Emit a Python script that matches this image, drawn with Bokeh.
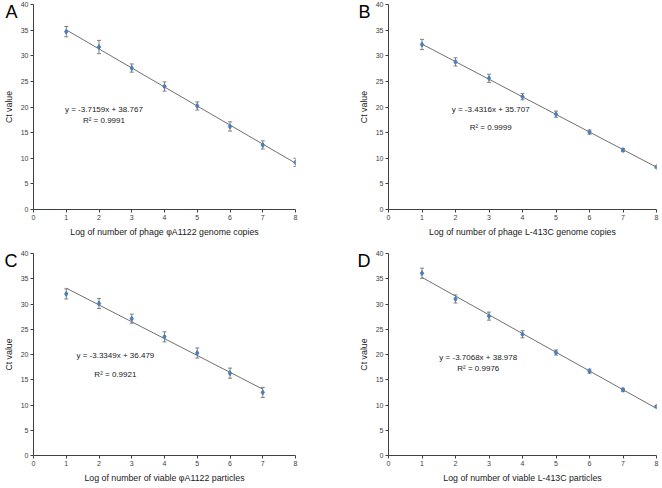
from bokeh.plotting import figure
from bokeh.layouts import gridplot
from bokeh.models import (ColumnDataSource, Whisker, TeeHead, Label, FixedTicker,
                          Range1d, LinearAxis)
from bokeh.embed import file_html
from bokeh.resources import INLINE

# ---- data ----
x_A = [1, 2, 3, 4, 5, 6, 7, 8]
ct_A = [34.7, 31.7, 27.6, 24.0, 20.2, 16.2, 12.6, 9.2]
err_A = [1.0, 1.3, 0.8, 0.9, 0.8, 0.9, 0.8, 0.8]

x_B = [1, 2, 3, 4, 5, 6, 7, 8]
ct_B = [32.2, 28.8, 25.6, 22.0, 18.6, 15.1, 11.6, 8.3]
err_B = [1.0, 0.8, 0.8, 0.6, 0.6, 0.4, 0.3, 0.2]

x_C = [1, 2, 3, 4, 5, 6, 7]
ct_C = [32.0, 30.1, 27.1, 23.5, 20.3, 16.3, 12.5]
err_C = [1.0, 1.0, 0.9, 1.0, 1.0, 1.0, 1.0]

x_D = [1, 2, 3, 4, 5, 6, 7, 8]
ct_D = [36.1, 31.0, 27.6, 24.0, 20.4, 16.7, 13.0, 9.7]
err_D = [1.0, 0.8, 0.8, 0.7, 0.5, 0.4, 0.3, 0.2]

slopes = [-3.7159, -3.4316, -3.3349, -3.7068]
intercepts = [38.767, 35.707, 36.479, 38.978]
fit_x_end = [8, 8, 7, 8]
equations = ["y = -3.7159x + 38.767", "y = -3.4316x + 35.707",
             "y = -3.3349x + 36.479", "y = -3.7068x + 38.978"]
r2_texts = ["R\u00b2 = 0.9991", "R\u00b2 = 0.9999", "R\u00b2 = 0.9921", "R\u00b2 = 0.9976"]
panel_letters = ["A", "B", "C", "D"]
x_titles = ["Log of number of phage \u03c6A1122 genome copies",
            "Log of number of phage L-413C genome copies",
            "Log of number of viable \u03c6A1122 particles",
            "Log of number of viable L-413C particles"]
y_title = "Ct value"
x_ticks = [0, 1, 2, 3, 4, 5, 6, 7, 8]
y_ticks = [0, 5, 10, 15, 20, 25, 30, 35, 40]

# equation placement (data coords): x center, y line1, y line2
eq_pos = [(2.15, 19.5, 17.4), (3.05, 19.6, 16.0), (2.5, 19.8, 16.0), (2.68, 19.4, 17.2)]
letter_y = 38.6

FONT = "Liberation Sans"
BLUE = "#4A7EBB"
GRAY = "#808080"


def make_panel(i, xs, ys, errs, col, row):
    w = 327 if col == 0 else 333
    h = 241 if row == 0 else 244
    left = 33 if col == 0 else 61
    right = 32 if col == 0 else 4
    top = 4 if row == 0 else 12
    bottom = 32 if row == 0 else 30
    p = figure(width=w, height=h, output_backend="svg", toolbar_location=None,
               x_range=Range1d(0, 8), y_range=Range1d(0, 40),
               min_border_left=left, min_border_right=right,
               min_border_top=top, min_border_bottom=bottom)
    p.outline_line_color = None
    p.xgrid.visible = False
    p.ygrid.visible = False
    for ax in (p.xaxis[0], p.yaxis[0]):
        ax.axis_line_color = "#404040"
        ax.major_tick_line_color = "#404040"
        ax.minor_tick_line_color = None
        ax.major_tick_in = 0
        ax.major_tick_out = 3
        ax.major_label_text_font = FONT
        ax.major_label_text_font_size = "7px"
        ax.major_label_text_color = "#404040"
        ax.major_label_standoff = 2
        ax.axis_label_text_font = FONT
        ax.axis_label_text_font_size = "8.8px"
        ax.axis_label_text_font_style = "normal"
        ax.axis_label_text_color = "#202020"
        ax.axis_label_standoff = 4
    p.xaxis.ticker = FixedTicker(ticks=x_ticks)
    p.yaxis.ticker = FixedTicker(ticks=y_ticks)
    p.xaxis.axis_label = x_titles[i]
    p.yaxis.axis_label = y_title

    # panel letter as an outer, line-less axis label
    lax = LinearAxis(ticker=FixedTicker(ticks=[letter_y]),
                     major_label_overrides={letter_y: panel_letters[i]},
                     axis_line_color=None, major_tick_line_color=None,
                     minor_tick_line_color=None, major_tick_in=0, major_tick_out=0,
                     major_label_standoff=-17 if col == 0 else -15,
                     major_label_text_font=FONT, major_label_text_font_size="18px",
                     major_label_text_color="#000000")
    p.add_layout(lax, "left")

    # fit line
    fx = [1, fit_x_end[i]]
    fy = [slopes[i] * v + intercepts[i] for v in fx]
    p.line(fx, fy, line_color="#707070", line_width=1)

    src = ColumnDataSource(dict(x=xs, y=ys,
                                lo=[a - b for a, b in zip(ys, errs)],
                                hi=[a + b for a, b in zip(ys, errs)]))
    wk = Whisker(base="x", lower="lo", upper="hi", source=src, dimension="height",
                 line_color=GRAY, line_width=1,
                 upper_head=TeeHead(size=4, line_color=GRAY, line_width=1),
                 lower_head=TeeHead(size=4, line_color=GRAY, line_width=1))
    p.add_layout(wk)
    p.scatter("x", "y", source=src, marker="diamond", size=5,
              fill_color=BLUE, line_color=BLUE)

    cx, y1, y2 = eq_pos[i]
    for txt, yy in ((equations[i], y1), (r2_texts[i], y2)):
        p.add_layout(Label(x=cx, y=yy, text=txt, text_align="center",
                           text_baseline="middle", text_font=FONT,
                           text_font_size="8px", text_color="#202020"))
    return p


pA = make_panel(0, x_A, ct_A, err_A, 0, 0)
pB = make_panel(1, x_B, ct_B, err_B, 1, 0)
pC = make_panel(2, x_C, ct_C, err_C, 0, 1)
pD = make_panel(3, x_D, ct_D, err_D, 1, 1)

grid = gridplot([[pA, pB], [pC, pD]], toolbar_location=None)
open("out.html", "w").write(file_html(grid, INLINE))
